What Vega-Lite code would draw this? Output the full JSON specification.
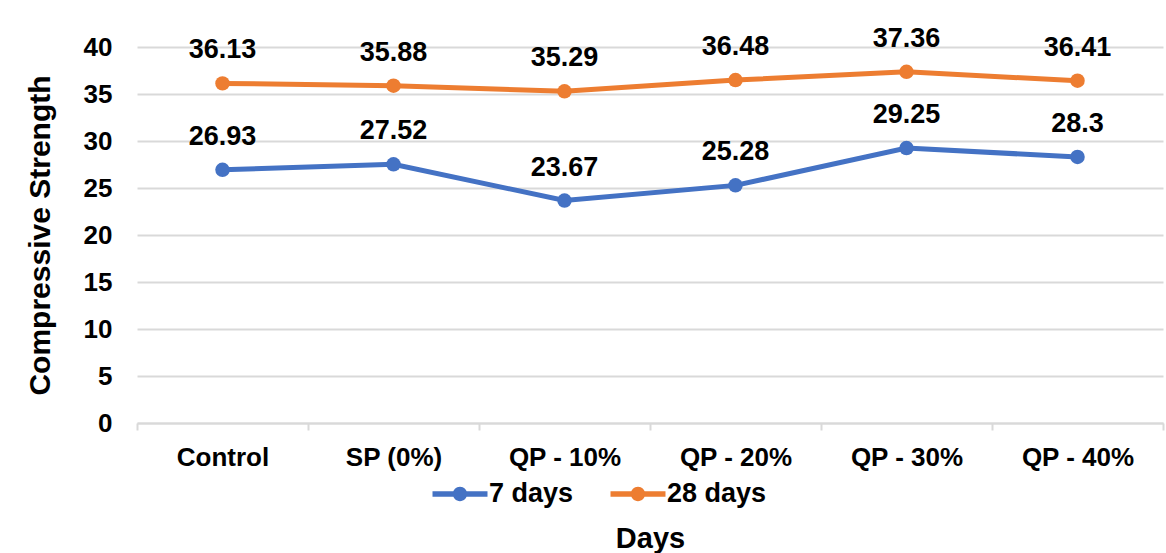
{
  "$schema": "https://vega.github.io/schema/vega-lite/v6.json",
  "width": 1026,
  "height": 376,
  "autosize": {"type": "none"},
  "padding": {"left": 137, "top": 47, "right": 3, "bottom": 130},
  "background": "white",
  "config": {"view": {"stroke": null}, "font": "Liberation Sans"},
  "data": {
    "values": [
      {"mix": "Control", "age": "7 days", "strength": 26.93},
      {"mix": "SP (0%)", "age": "7 days", "strength": 27.52},
      {"mix": "QP - 10%", "age": "7 days", "strength": 23.67},
      {"mix": "QP - 20%", "age": "7 days", "strength": 25.28},
      {"mix": "QP - 30%", "age": "7 days", "strength": 29.25},
      {"mix": "QP - 40%", "age": "7 days", "strength": 28.3},
      {"mix": "Control", "age": "28 days", "strength": 36.13},
      {"mix": "SP (0%)", "age": "28 days", "strength": 35.88},
      {"mix": "QP - 10%", "age": "28 days", "strength": 35.29},
      {"mix": "QP - 20%", "age": "28 days", "strength": 36.48},
      {"mix": "QP - 30%", "age": "28 days", "strength": 37.36},
      {"mix": "QP - 40%", "age": "28 days", "strength": 36.41}
    ]
  },
  "encoding": {
    "x": {
      "field": "mix",
      "type": "nominal",
      "sort": ["Control", "SP (0%)", "QP - 10%", "QP - 20%", "QP - 30%", "QP - 40%"],
      "bandPosition": 0.5,
      "scale": {"type": "band", "paddingInner": 0, "paddingOuter": 0},
      "axis": {
        "title": "Days",
        "titleFontSize": 29,
        "titleFontWeight": "bold",
        "titleColor": "black",
        "titleY": 115,
        "titleBaseline": "middle",
        "labelAngle": 0,
        "labelFontSize": 26,
        "labelFontWeight": "bold",
        "labelColor": "black",
        "labelPadding": 14,
        "tickBand": "extent",
        "tickSize": 7,
        "tickColor": "#d9d9d9",
        "tickWidth": 2,
        "domainColor": "#d9d9d9",
        "domainWidth": 2,
        "grid": false
      }
    },
    "y": {
      "field": "strength",
      "type": "quantitative",
      "scale": {"domain": [0, 40]},
      "axis": {
        "title": "Compressive Strength",
        "titleFontSize": 30,
        "titleFontWeight": "bold",
        "titleColor": "black",
        "titleX": -97,
        "titleBaseline": "middle",
        "values": [0, 5, 10, 15, 20, 25, 30, 35, 40],
        "labelFontSize": 26,
        "labelFontWeight": "bold",
        "labelColor": "black",
        "labelPadding": 25,
        "ticks": false,
        "domain": false,
        "gridColor": "#d9d9d9",
        "gridWidth": 2
      }
    },
    "color": {
      "field": "age",
      "type": "nominal",
      "scale": {"domain": ["7 days", "28 days"], "range": ["#4472C4", "#ED7D31"]},
      "legend": {
        "orient": "none",
        "legendX": 309,
        "legendY": 433,
        "direction": "horizontal",
        "title": null,
        "labelFontSize": 27,
        "labelFontWeight": "bold",
        "labelColor": "black",
        "labelOffset": 15,
        "columnPadding": 36,
        "symbolType": "M-2,-0.2H2V0.2H-2Z M0.52,0A0.52,0.52 0 1,1 -0.52,0A0.52,0.52 0 1,1 0.52,0Z",
        "symbolSize": 756,
        "symbolStrokeWidth": 0,
        "encode": {
          "symbols": {
            "update": {
              "fill": {"scale": "color", "field": "value"},
              "stroke": {"value": "transparent"},
              "opacity": {"value": 1}
            }
          }
        }
      }
    }
  },
  "layer": [
    {"mark": {"type": "line", "strokeWidth": 5, "point": {"size": 210, "filled": true, "opacity": 1}}},
    {
      "mark": {"type": "text", "dy": -33, "fontSize": 27, "fontWeight": "bold", "color": "black"},
      "encoding": {"text": {"field": "strength", "type": "nominal"}, "color": {"value": "black"}}
    }
  ]
}
